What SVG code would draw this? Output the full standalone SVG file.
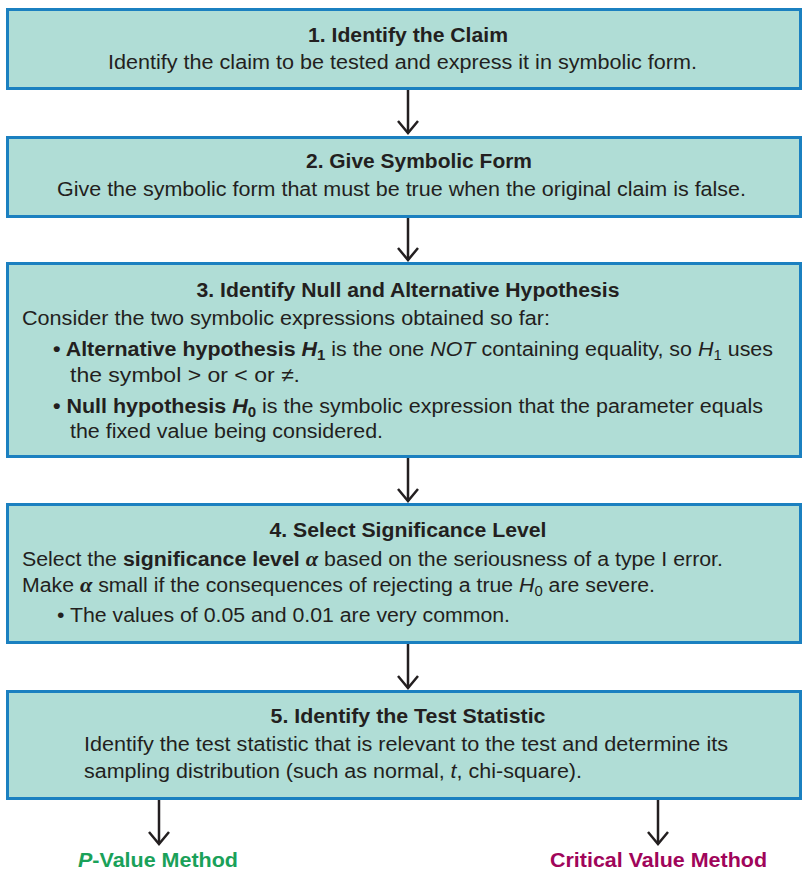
<svg xmlns="http://www.w3.org/2000/svg" width="808" height="876" viewBox="0 0 808 876">
<defs>
<style>
.box{fill:#b0ddd6;stroke:#1b80c0;stroke-width:3}
text{font-family:"Liberation Sans",Arial,sans-serif;font-size:20px;fill:#231f20}
.t{font-weight:bold;text-anchor:middle}
.b{font-weight:bold}
.i{font-style:italic}
.sub{font-size:14px}
.al{font-family:"Liberation Serif","Times New Roman",serif;font-style:italic;font-weight:bold;font-size:21px}
.conn line,.conn path{stroke:#231f20;stroke-width:2.5;fill:none}
.lab{font-weight:bold;font-size:21px}
</style>
</defs>
<g id="conn" class="conn">
<line x1="408" y1="89" x2="408" y2="133"/><path d="M398,121 L408,133 L418,121"/>
<line x1="408" y1="217" x2="408" y2="260"/><path d="M398,248 L408,260 L418,248"/>
<line x1="408" y1="457" x2="408" y2="501"/><path d="M398,489 L408,501 L418,489"/>
<line x1="408" y1="643" x2="408" y2="688"/><path d="M398,676 L408,688 L418,676"/>
<line x1="159" y1="799" x2="159" y2="844"/><path d="M149,832 L159,844 L169,832"/>
<line x1="658" y1="799" x2="658" y2="844"/><path d="M648,832 L658,844 L668,832"/>
</g>
<g id="n1">
<rect class="box" x="7.5" y="9.5" width="793" height="79"/>
<text class="t" x="408" y="42" textLength="200" lengthAdjust="spacingAndGlyphs">1. Identify the Claim</text>
<text x="108" y="69" textLength="589" lengthAdjust="spacingAndGlyphs">Identify the claim to be tested and express it in symbolic form.</text>
</g>
<g id="n2">
<rect class="box" x="7.5" y="137.5" width="793" height="79"/>
<text class="t" x="419" y="168" textLength="226" lengthAdjust="spacingAndGlyphs">2. Give Symbolic Form</text>
<text x="57" y="196" textLength="689" lengthAdjust="spacingAndGlyphs">Give the symbolic form that must be true when the original claim is false.</text>
</g>
<g id="n3">
<rect class="box" x="7.5" y="263.5" width="793" height="193"/>
<text class="t" x="408" y="297" textLength="423" lengthAdjust="spacingAndGlyphs">3. Identify Null and Alternative Hypothesis</text>
<text x="22" y="325" textLength="528" lengthAdjust="spacingAndGlyphs">Consider the two symbolic expressions obtained so far:</text>
<text x="53" y="356" textLength="720" lengthAdjust="spacingAndGlyphs"><tspan class="b">• Alternative hypothesis <tspan class="i">H</tspan><tspan class="sub" dy="4">1</tspan></tspan><tspan dy="-4"> is the one </tspan><tspan class="i">NOT</tspan> containing equality, so <tspan class="i">H</tspan><tspan class="sub" dy="4">1</tspan><tspan dy="-4"> uses</tspan></text>
<text x="70" y="382" textLength="230" lengthAdjust="spacingAndGlyphs">the symbol &gt; or &lt; or ≠.</text>
<text x="53" y="413" textLength="710" lengthAdjust="spacingAndGlyphs"><tspan class="b">• Null hypothesis <tspan class="i">H</tspan><tspan class="sub" dy="4">0</tspan></tspan><tspan dy="-4"> is the symbolic expression that the parameter equals</tspan></text>
<text x="70" y="438" textLength="313" lengthAdjust="spacingAndGlyphs">the fixed value being considered.</text>
</g>
<g id="n4">
<rect class="box" x="7.5" y="504.5" width="793" height="138"/>
<text class="t" x="408" y="537" textLength="277" lengthAdjust="spacingAndGlyphs">4. Select Significance Level</text>
<text x="22" y="566" textLength="701" lengthAdjust="spacingAndGlyphs">Select the <tspan class="b">significance level </tspan><tspan class="al">α</tspan> based on the seriousness of a type I error.</text>
<text x="22" y="592" textLength="633" lengthAdjust="spacingAndGlyphs">Make <tspan class="al">α</tspan> small if the consequences of rejecting a true <tspan class="i">H</tspan><tspan class="sub" dy="4">0</tspan><tspan dy="-4"> are severe.</tspan></text>
<text x="57" y="622" textLength="453" lengthAdjust="spacingAndGlyphs">• The values of 0.05 and 0.01 are very common.</text>
</g>
<g id="n5">
<rect class="box" x="7.5" y="691.5" width="793" height="107"/>
<text class="t" x="408" y="723" textLength="275" lengthAdjust="spacingAndGlyphs">5. Identify the Test Statistic</text>
<text x="84" y="751" textLength="644" lengthAdjust="spacingAndGlyphs">Identify the test statistic that is relevant to the test and determine its</text>
<text x="84" y="778" textLength="498" lengthAdjust="spacingAndGlyphs">sampling distribution (such as normal, <tspan class="i">t</tspan>, chi-square).</text>
</g>
<g id="n6">
<text class="lab" x="78" y="867" textLength="160" lengthAdjust="spacingAndGlyphs" style="fill:#1aa159"><tspan class="i">P</tspan>-Value Method</text>
</g>
<g id="n7">
<text class="lab" x="550" y="867" textLength="217" lengthAdjust="spacingAndGlyphs" style="fill:#a0055a">Critical Value Method</text>
</g>
</svg>
